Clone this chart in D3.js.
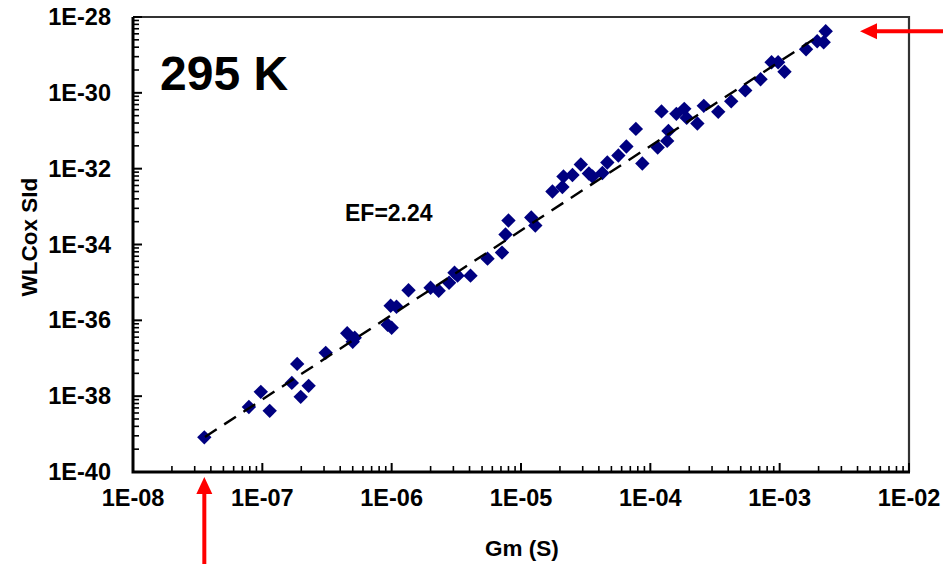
<!DOCTYPE html>
<html><head><meta charset="utf-8">
<script src="https://cdn.jsdelivr.net/npm/d3@7"></script>
<style>body{margin:0;background:#fff}svg{display:block}text{font-family:"Liberation Sans",Arial,sans-serif;font-weight:bold}</style>
</head><body><svg id="c" width="943" height="564"></svg>
<script>
// Gm (S) and WLCox SId values
const gm = [3.56e-8,7.87e-8,9.73e-8,1.14e-7,1.69e-7,1.86e-7,1.98e-7,2.28e-7,3.09e-7,4.53e-7,5.0e-7,5.18e-7,9.31e-7,1.0e-6,9.82e-7,1.09e-6,1.35e-6,2.0e-6,2.31e-6,2.78e-6,3.06e-6,3.23e-6,4.07e-6,5.51e-6,7.13e-6,7.59e-6,8.0e-6,1.2e-5,1.29e-5,1.75e-5,2.09e-5,2.13e-5,2.5e-5,2.9e-5,3.35e-5,3.57e-5,4.26e-5,4.65e-5,5.66e-5,6.53e-5,7.73e-5,8.67e-5,1.14e-4,1.22e-4,1.35e-4,1.38e-4,1.59e-4,1.83e-4,1.91e-4,2.31e-4,2.59e-4,3.35e-4,4.22e-4,5.42e-4,7.12e-4,8.66e-4,9.73e-4,1.09e-3,1.6e-3,1.95e-3,2.27e-3,2.19e-3];
const sid = [8.2e-40,5.2e-39,1.3e-38,4.1e-39,2.24e-38,7.1e-38,9.6e-39,1.87e-38,1.39e-37,4.56e-37,2.72e-37,3.47e-37,7.66e-37,6.37e-37,2.43e-36,2.29e-36,6.24e-36,7.26e-36,6.05e-36,9.84e-36,1.81e-35,1.51e-35,1.51e-35,4.24e-35,6.11e-35,1.83e-34,4.28e-34,5.14e-34,3.16e-34,2.5e-33,3.29e-33,6.22e-33,6.81e-33,1.29e-32,7.47e-33,6.22e-33,7.69e-33,1.46e-32,2.23e-32,3.86e-32,1.12e-31,1.37e-32,3.63e-32,3.24e-31,5.4e-32,9.9e-32,2.79e-31,3.78e-31,2.18e-31,1.56e-31,4.54e-31,3.15e-31,5.96e-31,1.16e-30,2.28e-30,6.4e-30,6.4e-30,3.59e-30,1.41e-29,2.3e-29,4.22e-29,2.16e-29];
// power-law fit line end points
const fitGm = [3.6e-8, 2.1e-3];
const fitSid = [8.4e-40, 3.5e-29];
const xTicks = [1e-8,1e-7,1e-6,1e-5,1e-4,1e-3,1e-2];
const yTicks = [1e-40,1e-38,1e-36,1e-34,1e-32,1e-30,1e-28];
const xTickLabels = ["1E-08","1E-07","1E-06","1E-05","1E-04","1E-03","1E-02"];
const yTickLabels = ["1E-40","1E-38","1E-36","1E-34","1E-32","1E-30","1E-28"];
const tempLabel = "295 K";
const efLabel = "EF=2.24";

const svg = d3.select("#c");
const L=133, R=909, T=17, B=472;
const x = d3.scaleLog().domain([1e-8,1e-2]).range([L,R]);
const y = d3.scaleLog().domain([1e-40,1e-28]).range([B,T]);

// frame (top/right)
svg.append("path").attr("d",`M${L},${T}H${R}V${B}`).attr("fill","none").attr("stroke","#333").attr("stroke-width",2.2);

// x minor ticks
const xMinor=[];
for(let i=0;i<xTicks.length-1;i++) for(let k=2;k<=9;k++) xMinor.push(xTicks[i]*k);
svg.append("g").selectAll("line").data(xMinor).join("line")
  .attr("x1",d=>x(d)).attr("x2",d=>x(d)).attr("y1",B).attr("y2",B-6)
  .attr("stroke","#000").attr("stroke-width",1.6);
svg.append("g").selectAll("line").data(xTicks).join("line")
  .attr("x1",d=>x(d)).attr("x2",d=>x(d)).attr("y1",B).attr("y2",B-9)
  .attr("stroke","#000").attr("stroke-width",2);
// y minor ticks (log base 100 axis, minor at base*k^2)
const yMinor=[];
for(let i=0;i<yTicks.length-1;i++) for(let k=2;k<=9;k++) yMinor.push(yTicks[i]*k*k);
svg.append("g").selectAll("line").data(yMinor).join("line")
  .attr("y1",d=>y(d)).attr("y2",d=>y(d)).attr("x1",L).attr("x2",L+6)
  .attr("stroke","#000").attr("stroke-width",1.6);
svg.append("g").selectAll("line").data(yTicks).join("line")
  .attr("y1",d=>y(d)).attr("y2",d=>y(d)).attr("x1",L).attr("x2",L+9)
  .attr("stroke","#000").attr("stroke-width",2);

// axes lines
svg.append("path").attr("d",`M${L},${T}V${B}H${R+1}`).attr("fill","none").attr("stroke","#000").attr("stroke-width",3);

// tick labels
svg.append("g").selectAll("text").data(xTicks).join("text")
  .attr("x",d=>x(d)).attr("y",B+34).attr("text-anchor","middle").attr("font-size",23.5)
  .text((d,i)=>xTickLabels[i]);
svg.append("g").selectAll("text").data(yTicks).join("text")
  .attr("x",L-22).attr("y",d=>y(d)+8).attr("text-anchor","end").attr("font-size",23.5)
  .text((d,i)=>yTickLabels[i]);

// axis titles
svg.append("text").attr("x",(L+R)/2+1).attr("y",556).attr("text-anchor","middle").attr("font-size",22.5).text("Gm (S)");
svg.append("text").attr("transform",`translate(37,237) rotate(-90)`).attr("text-anchor","middle").attr("font-size",22.5).text("WLCox SId");

// points
const pts = gm.map((g,i)=>[g,sid[i]]);
svg.append("g").selectAll("path").data(pts).join("path")
  .attr("d",d=>{const cx=x(d[0]),cy=y(d[1]),r=7.2;return `M${cx},${cy-r}L${cx+r},${cy}L${cx},${cy+r}L${cx-r},${cy}Z`;})
  .attr("fill","#000080");

// fit line
svg.append("line").attr("x1",x(fitGm[0])).attr("y1",y(fitSid[0])).attr("x2",x(fitGm[1])).attr("y2",y(fitSid[1]))
  .attr("stroke","#000").attr("stroke-width",2.4).attr("stroke-dasharray","14,9");

// labels
svg.append("text").attr("x",160).attr("y",90).attr("font-size",48).text(tempLabel);
svg.append("text").attr("x",345).attr("y",221).attr("font-size",23).text(efLabel);

// red arrows at data extremes
const minX = x(d3.min(gm)), maxY = y(d3.max(sid));
const red="#ff0000";
svg.append("line").attr("x1",minX).attr("x2",minX).attr("y1",B+20).attr("y2",564).attr("stroke",red).attr("stroke-width",4);
svg.append("path").attr("d",`M${minX},${B+5}L${minX+8},${B+22}L${minX-8},${B+22}Z`).attr("fill",red);
svg.append("line").attr("x1",R-34).attr("x2",943).attr("y1",maxY).attr("y2",maxY).attr("stroke",red).attr("stroke-width",4);
svg.append("path").attr("d",`M${R-49},${maxY}L${R-32},${maxY-8}L${R-32},${maxY+8}Z`).attr("fill",red);
</script></body></html>
